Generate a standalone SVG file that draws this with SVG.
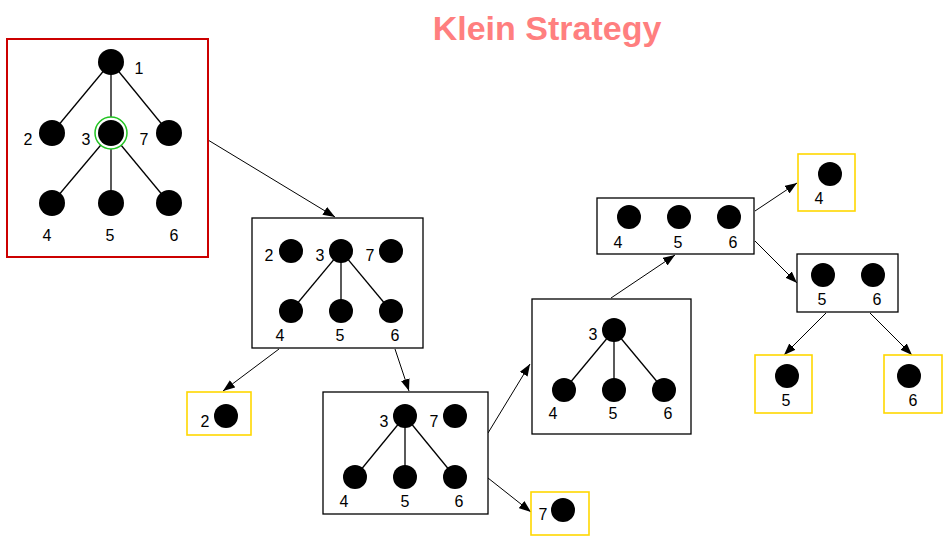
<svg xmlns="http://www.w3.org/2000/svg" width="947" height="541" viewBox="0 0 947 541">
<defs>
<marker id="ah" markerWidth="12" markerHeight="9" refX="12" refY="4.5" orient="auto" markerUnits="userSpaceOnUse"><path d="M0,0 L12,4.5 L0,9 Z" fill="#000"/></marker>
</defs>
<style>
.box{fill:#fff;stroke:#000;stroke-width:1.3}
.red{fill:#fff;stroke:#CC0000;stroke-width:2}
.yel{fill:#fff;stroke:#FFD700;stroke-width:1.6}
.n{fill:#000}
.e{stroke:#000;stroke-width:1.3;fill:none}
.c{stroke:#000;stroke-width:1;fill:none;marker-end:url(#ah)}
text{font-family:"Liberation Sans",Arial,sans-serif;font-size:16px;fill:#000;text-anchor:middle}
.title{font-size:34px;font-weight:bold;fill:#FF7F7F}
</style>
<rect width="947" height="541" fill="#fff"/>
<text class="title" x="547" y="40">Klein Strategy</text>
<g id="connectors">
<line class="c" x1="208" y1="140" x2="335" y2="217"/>
<line class="c" x1="279" y1="349" x2="223" y2="391"/>
<line class="c" x1="395" y1="349" x2="409" y2="391"/>
<line class="c" x1="488" y1="433" x2="530" y2="364"/>
<line class="c" x1="488" y1="478" x2="531" y2="512"/>
<line class="c" x1="611" y1="298" x2="675" y2="255"/>
<line class="c" x1="755" y1="211" x2="797" y2="183"/>
<line class="c" x1="755" y1="241" x2="797" y2="283"/>
<line class="c" x1="826" y1="313" x2="784" y2="355"/>
<line class="c" x1="870" y1="313" x2="912" y2="355"/>
</g>
<g id="tree-full">
<rect class="red" x="7" y="39" width="201" height="218"/>
<line class="e" x1="111" y1="62" x2="52" y2="133"/>
<line class="e" x1="111" y1="62" x2="111" y2="133"/>
<line class="e" x1="111" y1="62" x2="169" y2="133"/>
<line class="e" x1="111" y1="133" x2="52" y2="203"/>
<line class="e" x1="111" y1="133" x2="111" y2="203"/>
<line class="e" x1="111" y1="133" x2="169" y2="203"/>
<circle class="n" cx="111" cy="62" r="13"/>
<circle class="n" cx="52" cy="133" r="13"/>
<circle cx="111" cy="133" r="16" fill="#fff" stroke="#22C422" stroke-width="1.5"/>
<circle class="n" cx="111" cy="133" r="13"/>
<circle class="n" cx="169" cy="133" r="13"/>
<circle class="n" cx="52" cy="203" r="13"/>
<circle class="n" cx="111" cy="203" r="13"/>
<circle class="n" cx="169" cy="203" r="13"/>
<text x="139" y="74">1</text>
<text x="28" y="145">2</text>
<text x="86" y="145">3</text>
<text x="144" y="145">7</text>
<text x="47" y="241">4</text>
<text x="110" y="241">5</text>
<text x="174" y="241">6</text>
</g>
<g id="tree-2-3-7">
<rect class="box" x="252" y="218" width="171" height="130"/>
<line class="e" x1="341" y1="251" x2="291" y2="311"/>
<line class="e" x1="341" y1="251" x2="341" y2="311"/>
<line class="e" x1="341" y1="251" x2="391" y2="311"/>
<circle class="n" cx="291" cy="251" r="12"/>
<circle class="n" cx="341" cy="251" r="12"/>
<circle class="n" cx="391" cy="251" r="12"/>
<circle class="n" cx="291" cy="311" r="12"/>
<circle class="n" cx="341" cy="311" r="12"/>
<circle class="n" cx="391" cy="311" r="12"/>
<text x="269" y="261">2</text>
<text x="320" y="261">3</text>
<text x="370" y="261">7</text>
<text x="280" y="341">4</text>
<text x="340" y="341">5</text>
<text x="395" y="341">6</text>
</g>
<g id="leaf-2">
<rect class="yel" x="187" y="392" width="64" height="43"/>
<circle class="n" cx="226" cy="416" r="12"/>
<text x="205" y="427">2</text>
</g>
<g id="tree-3-7">
<rect class="box" x="323" y="392" width="165" height="122"/>
<line class="e" x1="405" y1="416" x2="355" y2="477"/>
<line class="e" x1="405" y1="416" x2="405" y2="477"/>
<line class="e" x1="405" y1="416" x2="455" y2="477"/>
<circle class="n" cx="405" cy="416" r="12"/>
<circle class="n" cx="455" cy="416" r="12"/>
<circle class="n" cx="355" cy="477" r="12"/>
<circle class="n" cx="405" cy="477" r="12"/>
<circle class="n" cx="455" cy="477" r="12"/>
<text x="384" y="427">3</text>
<text x="434" y="427">7</text>
<text x="344" y="507">4</text>
<text x="405" y="507">5</text>
<text x="459" y="507">6</text>
</g>
<g id="leaf-7">
<rect class="yel" x="531" y="492" width="58" height="43"/>
<circle class="n" cx="563" cy="510" r="12"/>
<text x="543" y="520">7</text>
</g>
<g id="tree-3">
<rect class="box" x="532" y="299" width="159" height="135"/>
<line class="e" x1="614" y1="330" x2="564" y2="390"/>
<line class="e" x1="614" y1="330" x2="614" y2="390"/>
<line class="e" x1="614" y1="330" x2="664" y2="390"/>
<circle class="n" cx="614" cy="330" r="12"/>
<circle class="n" cx="564" cy="390" r="12"/>
<circle class="n" cx="614" cy="390" r="12"/>
<circle class="n" cx="664" cy="390" r="12"/>
<text x="593" y="340">3</text>
<text x="553" y="419">4</text>
<text x="613" y="419">5</text>
<text x="668" y="419">6</text>
</g>
<g id="set-4-5-6">
<rect class="box" x="597" y="198" width="157" height="56"/>
<circle class="n" cx="629" cy="217" r="12"/>
<circle class="n" cx="679" cy="217" r="12"/>
<circle class="n" cx="729" cy="217" r="12"/>
<text x="618" y="248">4</text>
<text x="678" y="248">5</text>
<text x="733" y="248">6</text>
</g>
<g id="leaf-4">
<rect class="yel" x="798" y="154" width="57" height="57"/>
<circle class="n" cx="830" cy="174" r="12"/>
<text x="819" y="204">4</text>
</g>
<g id="set-5-6">
<rect class="box" x="797" y="254" width="101" height="58"/>
<circle class="n" cx="823" cy="275" r="12"/>
<circle class="n" cx="873" cy="275" r="12"/>
<text x="822" y="305">5</text>
<text x="877" y="305">6</text>
</g>
<g id="leaf-5">
<rect class="yel" x="755" y="355" width="57" height="58"/>
<circle class="n" cx="787" cy="376" r="12"/>
<text x="786" y="406">5</text>
</g>
<g id="leaf-6">
<rect class="yel" x="884" y="355" width="58" height="58"/>
<circle class="n" cx="909" cy="376" r="12"/>
<text x="913" y="406">6</text>
</g>
</svg>
